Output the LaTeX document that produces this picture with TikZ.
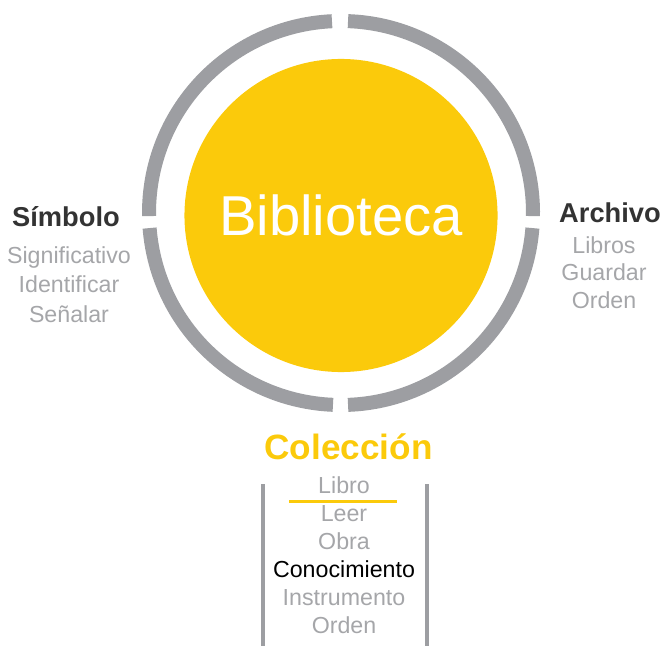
\documentclass[tikz,border=0pt]{standalone}
\usepackage{fontspec}
\setmainfont{Liberation Sans}
\usetikzlibrary{positioning,calc}
\definecolor{bibyellow}{HTML}{FBCA0B}
\definecolor{ringgray}{HTML}{9D9EA2}
\definecolor{wordgray}{HTML}{A5A6A9}
\definecolor{headgray}{HTML}{333333}
\tikzset{
    x=0.025cm,
    y=0.025cm,
    hub/.style = {
        shape=circle,
        fill=bibyellow,
        minimum size=7.825cm,
        inner sep=0pt,
        text=white,
        font=\fontsize{40}{44}\selectfont
    },
    ring/.style = {
        draw=ringgray,
        line width=0.35cm
    },
    head/.style = {
        anchor=base,
        inner sep=0pt,
        text=headgray,
        font=\bfseries\fontsize{19.4}{22}\selectfont
    },
    bighead/.style = {
        anchor=base,
        inner sep=0pt,
        text=bibyellow,
        font=\bfseries\fontsize{25}{28}\selectfont
    },
    word/.style = {
        anchor=base,
        inner sep=0pt,
        text=wordgray,
        font=\fontsize{16.5}{19}\selectfont
    },
    bar/.style = {
        draw=ringgray,
        line width=0.1cm
    },
    underline/.style = {
        draw=bibyellow,
        line width=0.075cm
    }
}
\begin{document}
\begin{tikzpicture}
    \useasboundingbox (0,0) rectangle (661,646);

    % ring and centre
    \coordinate (ctr) at (341,433);
    \foreach \a/\b in {-0.9/87.9, 92.7/180.9, 184.5/267.6, 272.1/355.5}
        \draw[ring] (ctr) ++(\a:192) arc[start angle=\a, end angle=\b, radius=192];
    \node[hub] (bib) at (341,430.5) {Biblioteca};

    % left
    \node[head] (simb) at (66,419) {Símbolo};
    \foreach \w [count=\i] in {Significativo, Identificar, Señalar}
        \node[word] (simb\i) at (69,{383-29.5*(\i-1)}) {\w};

    % right
    \node[head] (arch) at (610,424) {Archivo};
    \foreach \w [count=\i] in {Libros, Guardar, Orden}
        \node[word] (arch\i) at (604,{393-27.5*(\i-1)}) {\w};

    % bottom
    \node[bighead] (colec) at (348.5,187) {Colección};
    \foreach \w [count=\i] in {Libro, Leer, Obra, \textcolor{black}{Conocimiento}, Instrumento, Orden}
        \node[word] (colec\i) at (344,{153-28*(\i-1)}) {\w};

    \draw[bar] (262.5,162) -- (262.5,0);
    \draw[bar] (427,162) -- (427,0);
    \draw[underline] (289,144.5) -- (397,144.5);
\end{tikzpicture}
\end{document}
